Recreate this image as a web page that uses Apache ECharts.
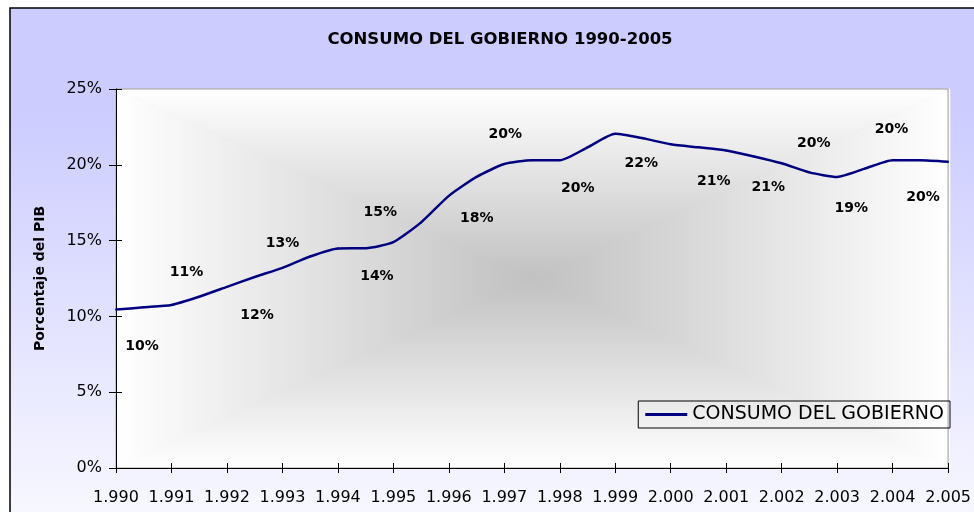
<!DOCTYPE html>
<html><head><meta charset="utf-8">
<script src="https://cdn.jsdelivr.net/npm/echarts@6/dist/echarts.min.js"></script>
<style>html,body{margin:0;padding:0;background:#fff}#c{width:974px;height:512px}</style>
</head><body><div id="c"></div>
<script>
// ---- data ----
const titleText = 'CONSUMO DEL GOBIERNO 1990-2005';
const seriesName = 'CONSUMO DEL GOBIERNO';
const yAxisName = 'Porcentaje del PIB';
const periods = [1990, 1990.5, 1991, 1991.5, 1992, 1992.5, 1993, 1993.5, 1994, 1994.5,
  1995, 1995.5, 1996, 1996.5, 1997, 1997.5, 1998, 1998.5, 1999, 1999.5,
  2000, 2000.5, 2001, 2001.5, 2002, 2002.5, 2003, 2003.5, 2004, 2004.5, 2005];
const values = [10.45, 10.6, 10.75, 11.3, 11.95, 12.6, 13.2, 13.95, 14.48, 14.5,
  14.9, 16.2, 17.95, 19.2, 20.05, 20.3, 20.3, 21.15, 22.05, 21.75,
  21.35, 21.15, 20.95, 20.55, 20.1, 19.5, 19.2, 19.75, 20.3, 20.3, 20.2];
const labelYears = [1990, 1991, 1992, 1993, 1994, 1995, 1996, 1997, 1998, 1999, 2000, 2001, 2002, 2003, 2004, 2005];
// ---- style ----
const labelOffsets = [[26,37],[15,-33],[30,29],[0,-25],[39,28],[-13,-30],[28,22],[1,-30],
  [18,28],[26,30],[43,37],[42,37],[32,-20],[14,31],[-1,-31],[-25,36]];
const FONT = 'DejaVu Sans';
const G = {left:116, top:89, right:24, bottom:44};

const chart = echarts.init(document.getElementById('c'));
const W = chart.getWidth(), H = chart.getHeight();
const L = G.left, T = G.top, R = W - G.right, B = H - G.bottom;
const cx = (L + R) / 2, cy = (T + B) / 2;
const centerCol = '#c1c1c1', edgeCol = '#ffffff';
function lg(x1,y1,x2,y2){return {type:'linear',x:x1,y:y1,x2:x2,y2:y2,global:true,
  colorStops:[{offset:0,color:edgeCol},{offset:1,color:centerCol}]};}
const tri = (pts, fill) => ({type:'polygon', z:-5, silent:true, shape:{points:pts}, style:{fill:fill, stroke:fill, lineWidth:0.5}});

const offsetByIndex = periods.map(p => {
  const k = labelYears.indexOf(p);
  return k >= 0 ? labelOffsets[k] : [0, 0];
});
const data = periods.map((p, i) => {
  const k = labelYears.indexOf(p);
  return {value:[p, values[i]], label: {show: k >= 0}};
});

chart.setOption({
  backgroundColor:'#ffffff',
  animation:false,
  graphic:{elements:[
    {type:'rect', z:-10, silent:true, shape:{x:10, y:8, width:W+20, height:H+20},
     style:{fill:{type:'linear',x:0,y:8,x2:0,y2:H+10,global:true,
       colorStops:[{offset:0,color:'#ccccff'},{offset:0.2,color:'#ccccff'},{offset:1,color:'#f8f8ff'}]},
       stroke:'#000000', lineWidth:1.5}},
    tri([[L,T],[R,T],[cx,cy]], lg(0,T,0,cy)),
    tri([[L,B],[R,B],[cx,cy]], lg(0,B,0,cy)),
    tri([[L,T],[L,B],[cx,cy]], lg(L,0,cx,0)),
    tri([[R,T],[R,B],[cx,cy]], lg(R,0,cx,0))
  ]},
  title:{text:titleText, left:495, top:26, textAlign:'center',
    textStyle:{fontFamily:FONT, fontSize:16.5, fontWeight:'bold', color:'#000'}},
  legend:{data:[{name:seriesName, icon:'rect'}], right:G.right, top:401, padding:[4,6,4,7],
    itemWidth:42, itemHeight:3, itemGap:5, borderColor:'#000', borderWidth:1, borderRadius:0,
    backgroundColor:'rgba(255,255,255,0)',
    textStyle:{fontFamily:FONT, fontSize:19, color:'#000'}},
  grid:{left:G.left, top:G.top, right:G.right, bottom:G.bottom, show:true,
    borderColor:'#999999', borderWidth:1, backgroundColor:'transparent'},
  xAxis:[{type:'value', min:1990, max:2005, interval:1,
    axisLine:{lineStyle:{color:'#000', width:1}},
    axisTick:{show:true, inside:false, length:5, lineStyle:{color:'#000'}},
    splitLine:{show:false},
    axisLabel:{margin:22, fontFamily:FONT, fontSize:16, color:'#000',
      formatter:v => {const s = String(v); return s.slice(0, s.length-3) + '.' + s.slice(-3);}}},
    {type:'value', min:1990, max:2005, interval:1, position:'bottom', gridIndex:0,
     axisLine:{show:false}, axisLabel:{show:false}, splitLine:{show:false},
     axisTick:{show:true, inside:true, length:5, lineStyle:{color:'#000'}}}],
  yAxis:[{type:'value', min:0, max:25, interval:5, name:yAxisName, nameLocation:'middle', nameGap:69,
    nameTextStyle:{fontFamily:FONT, fontSize:14, fontWeight:'bold', color:'#000'},
    axisLine:{show:true, lineStyle:{color:'#000', width:1}},
    axisTick:{show:true, inside:false, length:7, lineStyle:{color:'#000'}},
    splitLine:{show:false},
    axisLabel:{margin:14, fontFamily:FONT, fontSize:16, color:'#000', formatter:'{value}%'}},
    {type:'value', min:0, max:25, interval:5, position:'left', gridIndex:0,
     axisLine:{show:false}, axisLabel:{show:false}, splitLine:{show:false},
     axisTick:{show:true, inside:true, length:6, lineStyle:{color:'#000'}}}],
  series:[{name:seriesName, type:'line', xAxisIndex:0, yAxisIndex:0, data:data,
    smooth:0.2, symbol:'circle', symbolSize:2, showSymbol:true, showAllSymbol:true,
    itemStyle:{color:'#000080'}, lineStyle:{color:'#000080', width:2.5},
    label:{position:'inside', align:'center', verticalAlign:'middle',
      fontFamily:FONT, fontSize:14, fontWeight:'bold', color:'#000',
      formatter:p => Math.round(p.value[1]) + '%'},
    labelLayout:p => ({dx: offsetByIndex[p.dataIndex][0], dy: offsetByIndex[p.dataIndex][1], hideOverlap:false})}]
});
</script></body></html>
